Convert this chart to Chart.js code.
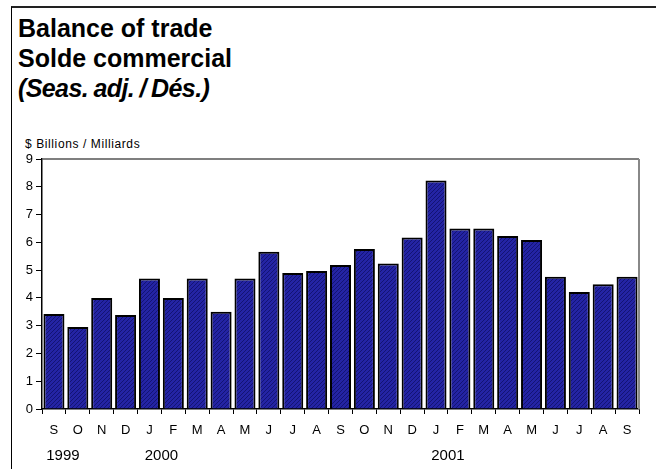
<!DOCTYPE html>
<html>
<head>
<meta charset="utf-8">
<script src="https://cdn.jsdelivr.net/npm/chart.js@4"></script>
<style>
  html, body { margin: 0; padding: 0; background: #fff; }
  #wrap { position: relative; width: 656px; height: 469px; overflow: hidden; }
  #frame { position: absolute; left: 11px; top: 6px; width: 660px; height: 480px;
           border-left: 1.5px solid #000; border-top: 2px solid #222; box-sizing: border-box; }
  .ttl { position: absolute; left: 18px; font-family: "Liberation Sans", Arial, sans-serif;
         font-size: 25px; font-weight: bold; line-height: 30px; color: #000; white-space: nowrap; }
  #unit { position: absolute; left: 25px; top: 137px; font-family: "Liberation Sans", Arial, sans-serif;
          font-size: 12px; line-height: 14px; color: #000; letter-spacing: 0.6px; }
  canvas { position: absolute; left: 0; top: 0; }
</style>
</head>
<body>
<div id="wrap">
  <div id="frame"></div>
  <div class="ttl" style="top:13px">Balance of trade</div>
  <div class="ttl" style="top:43px">Solde commercial</div>
  <div class="ttl" style="top:73px;font-style:italic;letter-spacing:-0.6px;word-spacing:-1px">(Seas. adj. / Dés.)</div>
  <div id="unit">$ Billions / Milliards</div>
  <canvas id="chart" width="656" height="469"></canvas>
</div>
<script>
// Données
const months = ['S', 'O', 'N', 'D', 'J', 'F', 'M', 'A', 'M', 'J', 'J', 'A', 'S',
                'O', 'N', 'D', 'J', 'F', 'M', 'A', 'M', 'J', 'J', 'A', 'S'];
const balance = [3.42, 2.95, 4.0, 3.38, 4.7, 4.0, 4.7, 3.5, 4.7, 5.66, 4.9, 4.97, 5.18,
                 5.76, 5.24, 6.17, 8.23, 6.5, 6.5, 6.23, 6.08, 4.76, 4.21, 4.49, 4.76];
const years = ['1999', '2000', '2001'];
const yearStart = [0, 4, 16];
const yTicks = [0, 1, 2, 3, 4, 5, 6, 7, 8, 9];

// Motif hachuré des barres
function makeHatch() {
    const c = document.createElement('canvas');
    c.width = 4; c.height = 4;
    const g = c.getContext('2d');
    g.fillStyle = '#2424a4';
    g.fillRect(0, 0, 4, 4);
    g.fillStyle = '#131374';
    for (let i = 0; i < 4; i++) {
        g.fillRect(i, 3 - i, 1, 1);
    }
    return g.createPattern(c, 'repeat');
}

// Cadre du graphique + années
const extras = {
    id: 'extras',
    afterDraw(chart) {
        const ctx = chart.ctx;
        const a = chart.chartArea;
        const x = chart.scales.x;
        ctx.save();
        ctx.strokeStyle = '#555';
        ctx.lineWidth = 1.5;
        ctx.beginPath();
        ctx.moveTo(a.left, a.top);
        ctx.lineTo(a.right, a.top);
        ctx.stroke();
        ctx.strokeStyle = '#888';
        ctx.lineWidth = 2;
        ctx.beginPath();
        ctx.moveTo(a.right, a.top);
        ctx.lineTo(a.right, a.bottom);
        ctx.stroke();

        ctx.fillStyle = '#000';
        ctx.font = '15px "Liberation Sans", Arial, sans-serif';
        ctx.textAlign = 'center';
        ctx.textBaseline = 'middle';
        years.forEach((y, i) => {
            const k = yearStart[i];
            const px = (x.getPixelForValue(k) + x.getPixelForValue(k + 1)) / 2;
            ctx.fillText(y, px - (i === 0 ? 3 : 0), 456);
        });
        ctx.restore();
    }
};

new Chart(document.getElementById('chart'), {
    type: 'bar',
    data: {
        labels: months,
        datasets: [{
            data: balance,
            backgroundColor: makeHatch(),
            borderColor: '#000',
            borderWidth: 2,
            borderSkipped: 'bottom',
            barPercentage: 0.88,
            categoryPercentage: 1.0
        }]
    },
    options: {
        responsive: false,
        animation: false,
        layout: { padding: { left: 0, top: 159, right: 17, bottom: 0 } },
        plugins: {
            legend: { display: false },
            tooltip: { enabled: false }
        },
        scales: {
            x: {
                afterFit: s => { s.height = 60; },
                grid: { offset: true, drawOnChartArea: false, drawTicks: true, tickLength: 5, color: '#000' },
                border: { color: '#000', width: 1.5 },
                ticks: {
                    color: '#000',
                    padding: 9,
                    maxRotation: 0,
                    autoSkip: false,
                    font: { family: '"Liberation Sans", Arial, sans-serif', size: 13 }
                }
            },
            y: {
                min: 0,
                max: 9,
                afterFit: s => { s.width = 42; },
                afterBuildTicks: s => { s.ticks = yTicks.map(v => ({ value: v })); },
                grid: { drawOnChartArea: false, drawTicks: true, tickLength: 6, color: '#000' },
                border: { color: '#000', width: 1.5 },
                ticks: {
                    color: '#000',
                    padding: 3,
                    font: { family: '"Liberation Sans", Arial, sans-serif', size: 13 }
                }
            }
        }
    },
    plugins: [extras]
});
</script>
</body>
</html>
